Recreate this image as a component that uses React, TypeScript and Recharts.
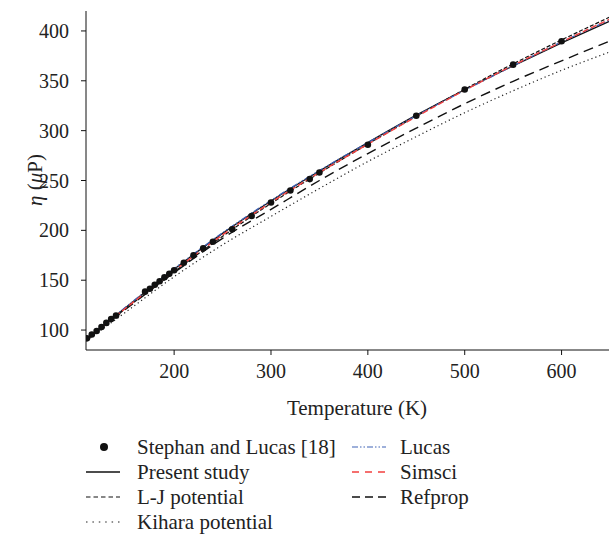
import { ComposedChart, Line, Scatter, XAxis, YAxis } from 'recharts';

// temperatures used for the model curves (K)
const curveT = [110, 150, 200, 250, 300, 350, 400, 450, 500, 550, 600, 650];

const presentStudy = [91.5, 122.5, 161, 197, 229.5, 259.5, 288, 315.5, 341, 365, 388, 410];
const ljPotential = [90.5, 121.5, 158.5, 194, 227, 257.5, 286.5, 314.5, 341.5, 367, 391, 414];
const kiharaPotential = [89.5, 118, 153.5, 185.5, 214, 242, 269, 294, 318, 340, 360.5, 379];
const lucas = [91.5, 123, 161.5, 197.5, 230, 260, 288, 315, 340.5, 365, 389, 411];
const simsci = [91, 122, 159.5, 195.5, 228, 258, 286.5, 314, 340.5, 365.5, 389, 412];
const refprop = [91, 121, 157.5, 192, 221, 250, 277, 302.5, 327, 349.5, 370, 390];

// Stephan and Lucas [18]
const expT = [110, 115, 120, 125, 130, 135, 140, 170, 175, 180, 185, 190, 195, 200, 210, 220, 230, 240, 260, 280, 300, 320, 340, 350, 400, 450, 500, 550, 600];
const expEta = [91.7, 95.5, 99, 103, 107.2, 111, 114.5, 138.5, 141.5, 145.5, 149, 153, 156.5, 160, 167.5, 175, 182, 188.5, 201, 214.4, 227.9, 240, 251.4, 258, 285.9, 315, 341.3, 366.2, 389.6];

const xTicks = [200, 300, 400, 500, 600];
const yTicks = [100, 150, 200, 250, 300, 350, 400];

const FONT = '"Liberation Serif"';
const BLUE = '#3f62b5';
const RED = '#f2403f';

const toSeries = (vals: number[]) => curveT.map((T, i) => ({ T, eta: vals[i] }));
const expData = expT.map((T, i) => ({ T, eta: expEta[i] }));

// drawing order: back to front
const series = [
  { name: 'Kihara potential', vals: kiharaPotential, color: '#222', dash: '1.2 3', width: 1.2 },
  { name: 'Refprop', vals: refprop, color: '#111', dash: '10 6', width: 1.4 },
  { name: 'L-J potential', vals: ljPotential, color: '#111', dash: '4 2', width: 1.2 },
  { name: 'Present study', vals: presentStudy, color: '#111', dash: undefined, width: 1.3 },
  { name: 'Lucas', vals: lucas, color: BLUE, dash: '6 2 1.5 2 1.5 2', width: 1.3 },
  { name: 'Simsci', vals: simsci, color: RED, dash: '6 3', width: 1.4 },
];

function LegendRow({ x, y, gap, label, children }: { x: number; y: number; gap: number; label: string; children: any }) {
  return (
    <div style={{ position: 'absolute', left: x, top: y - 12, height: 24, display: 'flex', alignItems: 'center' }}>
      <svg width={36} height={24} style={{ display: 'block' }}>{children}</svg>
      <span style={{ marginLeft: gap, fontFamily: FONT, fontSize: 21, color: '#222', whiteSpace: 'nowrap' }}>{label}</span>
    </div>
  );
}

function seg(color: string, dash?: string, w = 1.3) {
  return <line x1={0} x2={34} y1={12} y2={12} stroke={color} strokeWidth={w} strokeDasharray={dash} />;
}

export default function App() {
  return (
    <div style={{ position: 'absolute', left: 0, top: 0, width: 609, height: 534, overflow: 'hidden', background: '#fff' }}>
      <ComposedChart width={620} height={534} margin={{ top: 11, right: 10, bottom: 154, left: 26 }}>
        <XAxis
          dataKey="T"
          type="number"
          domain={[109, 650]}
          ticks={xTicks}
          allowDataOverflow
          stroke="#111"
          tickSize={5}
          tickMargin={9}
          height={30}
          tick={{ fontSize: 20, fill: '#222', fontFamily: FONT }}
          label={{
            content: () => (
              <text x={357} y={415} textAnchor="middle" fontSize={21} fontFamily={FONT} fill="#222">
                Temperature (K)
              </text>
            ),
          }}
        />
        <XAxis xAxisId="top" dataKey="T" type="number" domain={[109, 650]} orientation="top" tick={false} tickLine={false} stroke="#111" height={0} />
        <YAxis
          dataKey="eta"
          type="number"
          domain={[80, 420]}
          ticks={yTicks}
          allowDataOverflow
          width={60}
          stroke="#111"
          tickSize={5}
          tickMargin={12}
          tick={{ fontSize: 20, fill: '#222', fontFamily: FONT }}
          label={{
            content: () => (
              <text x={42} y={180} transform="rotate(-90 42 180)" textAnchor="middle" fontSize={21} fontFamily={FONT} fill="#222">
                <tspan fontStyle="italic">η</tspan> (<tspan fontStyle="italic">μ</tspan>P)
              </text>
            ),
          }}
        />
        {series.map(s => (
          <Line
            key={s.name}
            data={toSeries(s.vals)}
            dataKey="eta"
            type="monotone"
            stroke={s.color}
            strokeWidth={s.width}
            strokeDasharray={s.dash}
            dot={false}
            activeDot={false}
            isAnimationActive={false}
          />
        ))}
        <Scatter data={expData} dataKey="eta" fill="#111" shape={(p: any) => <circle cx={p.cx} cy={p.cy} r={3.3} fill="#111" />} isAnimationActive={false} />
      </ComposedChart>

      <LegendRow x={86} y={447} gap={15} label="Stephan and Lucas [18]">
        <circle cx={18} cy={12} r={4} fill="#111" />
      </LegendRow>
      <LegendRow x={86} y={472} gap={15} label="Present study">{seg('#111')}</LegendRow>
      <LegendRow x={86} y={497} gap={15} label="L-J potential">{seg('#111', '4.5 3', 1.2)}</LegendRow>
      <LegendRow x={86} y={522} gap={15} label="Kihara potential">{seg('#222', '1.5 4.9', 1.2)}</LegendRow>
      <LegendRow x={352} y={447} gap={12} label="Lucas">{seg(BLUE, '6 2 1.5 2 1.5 2', 1.2)}</LegendRow>
      <LegendRow x={352} y={472} gap={12} label="Simsci">{seg(RED, '7 6', 1.4)}</LegendRow>
      <LegendRow x={352} y={497} gap={12} label="Refprop">{seg('#111', '8 5', 1.4)}</LegendRow>
    </div>
  );
}
